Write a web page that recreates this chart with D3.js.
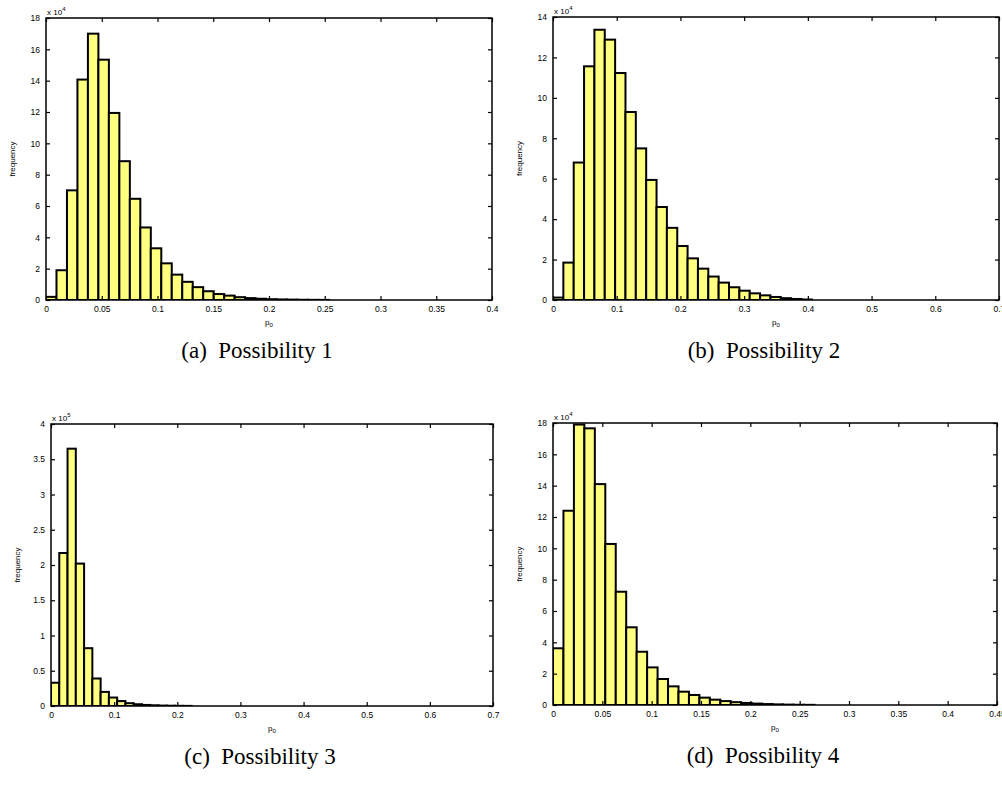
<!DOCTYPE html>
<html lang="en">
<head>
  <meta charset="UTF-8">
  <title>Histograms of p0</title>
  <style>
    body { margin: 0; background: #fff; }
    svg { display: block; }
    .tick text { font-family: "Liberation Sans", Arial, sans-serif; font-size: 8.5px; fill: #000; }
    .lbl { font-family: "Liberation Sans", Arial, sans-serif; font-size: 8px; fill: #000; }
    .caption { font-family: "Liberation Serif", "Times New Roman", serif; font-size: 23px; fill: #000; }
  </style>
</head>
<body>
<svg id="chart" width="1002" height="785"></svg>

<script src="https://d3js.org/d3.v7.min.js"></script>
<script>
  // Frequencies per bin
  const countsA = [2000, 19000, 70000, 140700, 170000, 153400, 119400, 88600, 64600, 46300, 33000, 23400,
    16200, 11600, 8200, 5600, 3800, 2800, 1800, 1200, 800, 500, 350, 250, 150, 100, 60];
  const countsB = [1200, 18500, 68000, 115600, 133700, 128800, 112300, 93000, 75000, 59400, 46000, 35700,
    26700, 20600, 15500, 11600, 8600, 6300, 4600, 3300, 2300, 1500, 900, 500, 250];
  const countsC = [33000, 217000, 365000, 202000, 82000, 39000, 20000, 12000, 7000, 4000, 2500, 1500,
    1000, 600, 400, 250, 150];
  const countsD = [36200, 124000, 179000, 176600, 141000, 102800, 72300, 49600, 34000, 24000, 16600, 11900,
    8500, 6400, 4700, 3400, 2500, 1800, 1300, 900, 600, 400, 250, 150, 100];

  const binA = 0.0094, binB = 0.01625, binC = 0.0131, binD = 0.0106;

  const xTicksA = [0, 0.05, 0.1, 0.15, 0.2, 0.25, 0.3, 0.35, 0.4];
  const xTicksB = [0, 0.1, 0.2, 0.3, 0.4, 0.5, 0.6, 0.7];
  const xTicksC = [0, 0.1, 0.2, 0.3, 0.4, 0.5, 0.6, 0.7];
  const xTicksD = [0, 0.05, 0.1, 0.15, 0.2, 0.25, 0.3, 0.35, 0.4, 0.45];

  const yTicksA = [0, 2, 4, 6, 8, 10, 12, 14, 16, 18];
  const yTicksB = [0, 2, 4, 6, 8, 10, 12, 14];
  const yTicksC = [0, 0.5, 1, 1.5, 2, 2.5, 3, 3.5, 4];
  const yTicksD = [0, 2, 4, 6, 8, 10, 12, 14, 16, 18];

  const captions = ['(a)  Possibility 1', '(b)  Possibility 2', '(c)  Possibility 3', '(d)  Possibility 4'];

  const panels = [
    { counts: countsA, bin: binA, xTicks: xTicksA, yTicks: yTicksA, xMax: 0.4, exp: 4,
      box: { left: 46, right: 492, top: 18, bottom: 300 }, caption: captions[0] },
    { counts: countsB, bin: binB, xTicks: xTicksB, yTicks: yTicksB, xMax: 0.7, exp: 4,
      box: { left: 553, right: 999, top: 17, bottom: 300 }, caption: captions[1] },
    { counts: countsC, bin: binC, xTicks: xTicksC, yTicks: yTicksC, xMax: 0.7, exp: 5,
      box: { left: 51, right: 493, top: 424, bottom: 706 }, caption: captions[2] },
    { counts: countsD, bin: binD, xTicks: xTicksD, yTicks: yTicksD, xMax: 0.45, exp: 4,
      box: { left: 553, right: 997, top: 423, bottom: 705 }, caption: captions[3] }
  ];

  const svg = d3.select('#chart');

  panels.forEach(p => {
    const b = p.box;
    const scaleF = Math.pow(10, p.exp);
    const yMax = p.yTicks[p.yTicks.length - 1];

    const x = d3.scaleLinear().domain([0, p.xMax]).range([b.left, b.right]);
    const y = d3.scaleLinear().domain([0, yMax]).range([b.bottom, b.top]);

    const g = svg.append('g');

    const clipId = 'clip' + b.left + '_' + b.top;
    g.append('clipPath').attr('id', clipId)
      .append('rect')
      .attr('x', b.left).attr('y', b.top - 2)
      .attr('width', b.right - b.left).attr('height', b.bottom - b.top + 2);

    // bars
    g.append('g').attr('clip-path', `url(#${clipId})`)
      .selectAll('rect')
      .data(p.counts)
      .join('rect')
      .attr('x', (d, i) => x(i * p.bin))
      .attr('width', x(p.bin) - x(0))
      .attr('y', d => y(d / scaleF))
      .attr('height', d => b.bottom - y(d / scaleF))
      .attr('fill', '#ffff80')
      .attr('stroke', '#000')
      .attr('stroke-width', 2);

    // axes with inward ticks on all four sides
    const tickLen = 4;
    g.append('g')
      .attr('transform', `translate(0,${b.bottom})`)
      .call(d3.axisBottom(x).tickValues(p.xTicks).tickSizeInner(-tickLen).tickSizeOuter(0).tickPadding(6)
        .tickFormat(d3.format('')))
      .call(a => a.select('.domain').remove());
    g.append('g')
      .attr('transform', `translate(0,${b.top})`)
      .call(d3.axisTop(x).tickValues(p.xTicks).tickSizeInner(-tickLen).tickSizeOuter(0).tickFormat(''))
      .call(a => a.select('.domain').remove());
    g.append('g')
      .attr('transform', `translate(${b.left},0)`)
      .call(d3.axisLeft(y).tickValues(p.yTicks).tickSizeInner(-tickLen).tickSizeOuter(0).tickPadding(6)
        .tickFormat(d3.format('')))
      .call(a => a.select('.domain').remove());
    g.append('g')
      .attr('transform', `translate(${b.right},0)`)
      .call(d3.axisRight(y).tickValues(p.yTicks).tickSizeInner(-tickLen).tickSizeOuter(0).tickFormat(''))
      .call(a => a.select('.domain').remove());

    g.selectAll('.tick line').attr('stroke', '#000').attr('stroke-width', 1.2);

    // box
    g.append('rect')
      .attr('x', b.left).attr('y', b.top)
      .attr('width', b.right - b.left).attr('height', b.bottom - b.top)
      .attr('fill', 'none').attr('stroke', '#000').attr('stroke-width', 1.5);

    // exponent label
    const ex = g.append('text').attr('class', 'lbl')
      .attr('x', b.left + 1).attr('y', b.top - 3);
    ex.append('tspan').text('x 10');
    ex.append('tspan').attr('dy', -4).attr('font-size', 6).text(p.exp);

    // x label p0
    const cx = (b.left + b.right) / 2;
    const xl = g.append('text').attr('class', 'lbl')
      .attr('x', cx).attr('y', b.bottom + 25).attr('text-anchor', 'middle');
    xl.append('tspan').text('p');
    xl.append('tspan').attr('dy', 2).attr('font-size', 6).text('0');

    // y label
    g.append('text').attr('class', 'lbl')
      .attr('transform', `translate(${b.left - 31},${(b.top + b.bottom) / 2}) rotate(-90)`)
      .attr('text-anchor', 'middle')
      .text('frequency');

    // caption
    g.append('text').attr('class', 'caption')
      .attr('x', cx - 12).attr('y', b.bottom + 58)
      .attr('text-anchor', 'middle')
      .attr('xml:space', 'preserve')
      .style('white-space', 'pre')
      .text(p.caption);
  });
</script>
</body>
</html>
